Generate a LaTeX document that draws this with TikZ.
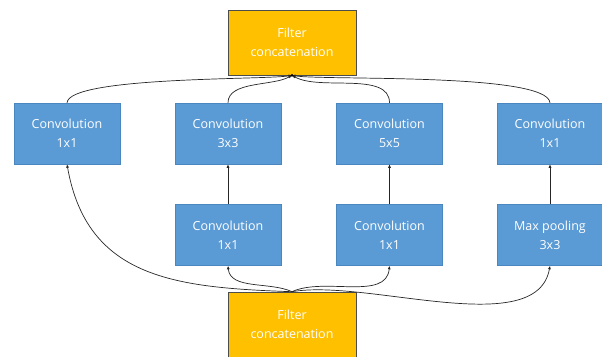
\documentclass[tikz,border=0pt]{standalone}
\usepackage{fontspec}
\setmainfont{Open Sans}
\usetikzlibrary{arrows.meta}
\definecolor{boxblue}{HTML}{5B9BD5}
\definecolor{boxborder}{HTML}{4A86C0}
\definecolor{concat}{HTML}{FFC000}
\begin{document}
\begin{tikzpicture}[x=1pt,y=-1pt,
  blk/.style={draw=boxborder,fill=boxblue,line width=0.5pt,minimum width=106pt,minimum height=61pt,
    text=white,align=center,font=\fontsize{12.5}{19}\selectfont,inner sep=0pt},
  cat/.style={draw=black!70,fill=concat,line width=0.6pt,minimum width=128pt,minimum height=65pt,
    text=white,align=center,font=\fontsize{12.5}{19}\selectfont,inner sep=0pt},
  conn/.style={draw=black!85,line width=0.7pt},
  arr/.style={conn,-{Latex[length=3.5pt,width=3pt]}}]
\useasboundingbox (0,0) rectangle (602,356);
\begin{scope}
\clip (0,0) rectangle (602,356);
\node[cat] (top) at (292,42.5) {Filter\\concatenation};
\node[cat] (bot) at (292,324.5) {Filter\\concatenation};
\end{scope}
\node[blk] (a1) at (67,133.5) {Convolution\\1x1};
\node[blk] (a2) at (228,133.5) {Convolution\\3x3};
\node[blk] (a3) at (389.5,133.5) {Convolution\\5x5};
\node[blk] (a4) at (550,133.5) {Convolution\\1x1};
\node[blk] (b2) at (228,235) {Convolution\\1x1};
\node[blk] (b3) at (389.5,235) {Convolution\\1x1};
\node[blk] (b4) at (550,235) {Max pooling\\3x3};
% top connectors
\draw[arr] (a1.north) to[out=85,in=190,looseness=0.3] (top.south);
\draw[arr] (a2.north) to[out=90,in=210,looseness=0.8] (top.south);
\draw[arr] (a3.north) to[out=90,in=-30,looseness=0.8] (top.south);
\draw[arr] (a4.north) to[out=95,in=-10,looseness=0.3] (top.south);
\fill[black] (top.south) circle (1.5pt);
% vertical
\draw[arr] (b2.north) -- (a2.south);
\draw[arr] (b3.north) -- (a3.south);
\draw[arr] (b4.north) -- (a4.south);
% bottom connectors
\draw[arr] (bot.north) to[out=178,in=-80,looseness=1.15] (a1.south);
\draw[arr] (bot.north) to[out=155,in=-85,looseness=0.9] (b2.south);
\draw[arr] (bot.north) to[out=25,in=-95,looseness=0.9] (b3.south);
\draw[arr] (bot.north) to[out=10,in=-100,looseness=0.75] (b4.south);
\end{tikzpicture}
\end{document}
